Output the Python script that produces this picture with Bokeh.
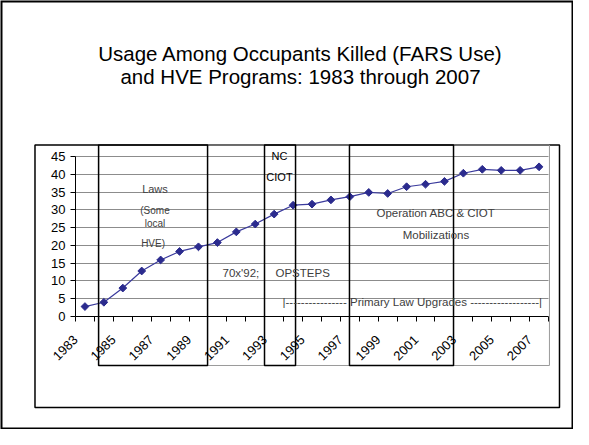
import math
from bokeh.plotting import figure
from bokeh.models import FixedTicker, Label, BoxAnnotation, Range1d, LinearAxis
from bokeh.embed import file_html
from bokeh.resources import INLINE

# ---- data ----
years = list(range(1983, 2008))
usage = [2.8, 4.0, 8.0, 12.8, 15.9, 18.3, 19.6, 20.8, 23.8, 26.0, 28.8, 31.3, 31.6,
         32.8, 33.7, 34.9, 34.6, 36.5, 37.2, 38.0, 40.3, 41.4, 41.1, 41.1, 42.1]
label_years = list(range(1983, 2008, 2))
y_ticks = list(range(0, 50, 5))

title_lines = ["Usage Among Occupants Killed (FARS Use)",
               "and HVE Programs: 1983 through 2007"]

# each category occupies [year, year+1]; the point sits at its centre
x_pos = [y + 0.5 for y in years]
boundaries = list(range(years[0], years[-1] + 2))

FONT = "Liberation Sans"

# The frame is the whole slide; the value axes are fixed inside it.
p = figure(width=573, height=429,
           x_range=Range1d(1979.036, 2009.321), y_range=Range1d(-31.78, 88.875),
           output_backend="svg", toolbar_location=None,
           min_border_left=0, min_border_right=0,
           min_border_top=0, min_border_bottom=0)
p.outline_line_color = None
p.background_fill_color = "white"
p.border_fill_color = "white"

# grid
p.xgrid.visible = False
g = p.ygrid[0]
g.ticker = FixedTicker(ticks=y_ticks[1:])
g.grid_line_color = "#8c8c8c"
g.grid_line_width = 1
if "cross_bounds" in g.properties():
    g.cross_bounds = (boundaries[0], boundaries[-1])

# x axis: line and tick marks at the category boundaries
xa = p.xaxis[0]
xa.fixed_location = 0
xa.bounds = (boundaries[0], boundaries[-1])
xa.ticker = FixedTicker(ticks=boundaries)
xa.major_tick_in = 0
xa.major_tick_out = 5
xa.major_tick_line_color = "black"
xa.minor_tick_line_color = None
xa.axis_line_color = "black"
xa.major_label_text_font_size = "1px"
xa.major_label_text_color = None
xa.major_label_standoff = 0

# x axis labels (every second year), rotated, a little below the axis
xl = LinearAxis(fixed_location=-5.906, ticker=FixedTicker(ticks=label_years),
                axis_line_color=None, major_tick_line_color=None,
                minor_tick_line_color=None, major_tick_in=0, major_tick_out=0,
                major_label_orientation=math.pi / 4,
                major_label_standoff=0,
                major_label_text_font=FONT,
                major_label_text_font_size="13px",
                major_label_text_color="black")
p.add_layout(xl, "below")

# y axis
ya = p.yaxis[0]
ya.fixed_location = boundaries[0]
ya.bounds = (y_ticks[0], y_ticks[-1])
ya.ticker = FixedTicker(ticks=y_ticks)
ya.major_label_text_font = FONT
ya.major_label_text_font_size = "13px"
ya.major_label_text_color = "black"
ya.major_tick_in = 0
ya.major_tick_out = 5
ya.minor_tick_line_color = None
ya.major_tick_line_color = "black"
ya.axis_line_color = "black"
ya.major_label_standoff = 5

# series
p.line(x_pos, usage, line_color="#3a3a9c", line_width=1.2)
p.scatter(x_pos, usage, marker="square", angle=math.pi / 4, size=5.5,
          fill_color="#2b2b8e", line_color="#2b2b8e")

# ---- slide decorations (data units of the chart) ----
def box(l, r, t, b, color="black", width=1.5):
    p.add_layout(BoxAnnotation(left=l, right=r, top=t, bottom=b,
                               fill_color=None, fill_alpha=0,
                               line_color=color, line_alpha=1.0,
                               line_width=width))

box(1979.036, 2009.321, 88.875, -31.78, width=4)        # slide border
box(1980.859, 2008.581, 48.23, -25.59, width=1.5)       # chart frame

BOX_TOP, BOX_BOTTOM = 48.23, -13.78
box(1984.22, 2008.05, BOX_TOP, BOX_BOTTOM, color="#9a9a9a", width=1)
box(1984.22, 1989.98, BOX_TOP, BOX_BOTTOM)              # Laws
box(1992.99, 1994.63, BOX_TOP, BOX_BOTTOM)              # NC CIOT
box(1997.48, 2002.98, BOX_TOP, BOX_BOTTOM)              # Operation ABC

def label(x, y, text, size="11px", color="#404040", align="center",
          baseline="middle"):
    p.add_layout(Label(x=x, y=y, text=text, text_font=FONT,
                       text_font_size=size, text_color=color,
                       text_align=align, text_baseline=baseline))

label(1994.892, 73.88, title_lines[0], size="20.5px", color="black",
      baseline="alphabetic")
label(1994.892, 67.58, title_lines[1], size="20.5px", color="black",
      baseline="alphabetic")

label(1987.2, 35.72, "Laws", size="11px")
label(1987.2, 29.81, "(Some", size="10px")
label(1987.2, 26.24, "local", size="10px")
label(1987.1, 20.62, "HVE)", size="10px")
label(1990.77, 12.37, "70x'92;", size="11.5px", align="left")
label(1993.57, 12.37, "OPSTEPS", size="11.5px", align="left")
label(1993.78, 45.28, "NC", size="11px", color="black")
label(1993.78, 39.37, "CIOT", size="11px", color="black")
label(2002.05, 28.97, "Operation ABC & CIOT", size="11.5px")
label(2002.05, 23.06, "Mobilizations", size="11.5px")
label(2000.8, 3.94,
      "|---------------- Primary Law Upgrades ------------------|",
      size="11.5px")

open("out.html", "w").write(file_html(p, INLINE))
